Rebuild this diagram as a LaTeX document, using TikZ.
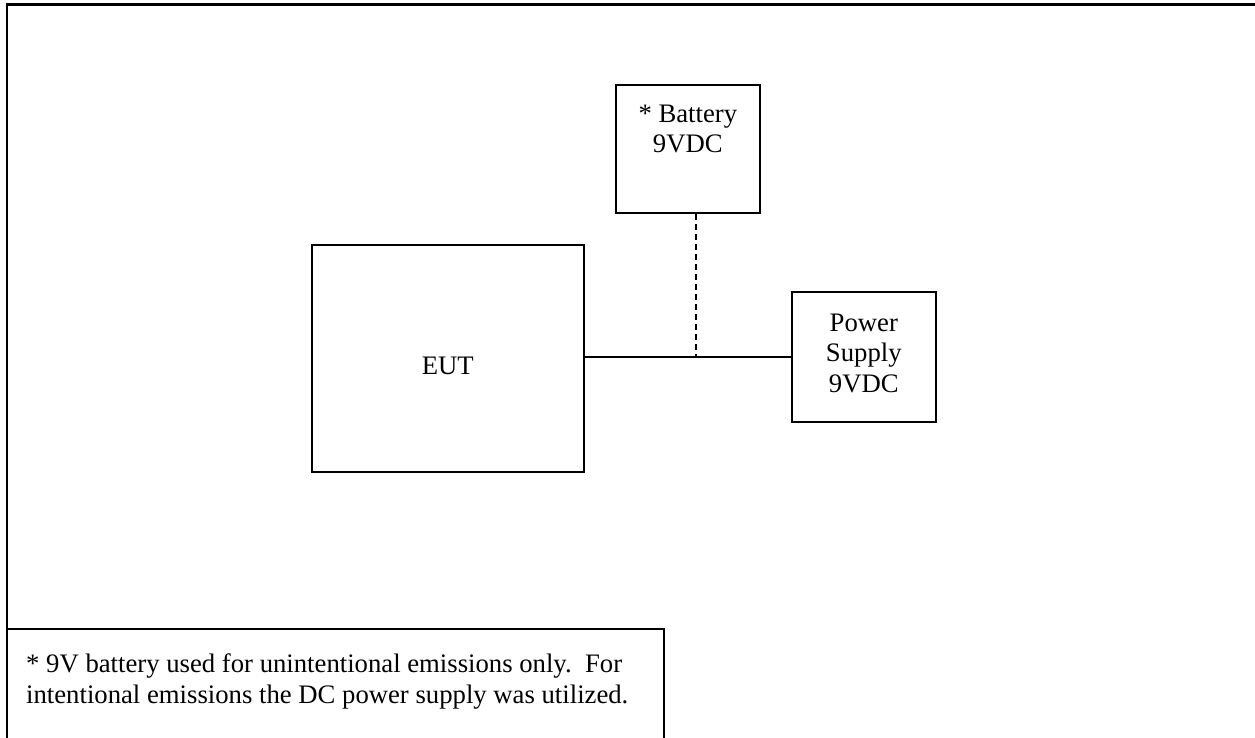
\documentclass[tikz,border=0pt]{standalone}
\usepackage{fontspec}
\setmainfont{Liberation Serif}
\begin{document}
\begin{tikzpicture}[x=1pt,y=-1pt,
  frame/.style={line width=2.4pt},
  box/.style={draw, line width=2pt, inner sep=0pt},
  wire/.style={line width=2pt},
  lbl/.style={font=\fontsize{26.7}{30.5}\selectfont, align=center, inner sep=0pt}]
\useasboundingbox (0,0) rectangle (1255,738);
% outer frame (top and left edges only visible)
\coordinate (ftl) at (7,4.5);
\coordinate (ftr) at (1256,4.5);
\coordinate (fbl) at (7,739);
\draw[frame] (ftr) -- (ftl) -- (fbl);
% boxes
\node[box, minimum width=272, minimum height=227] (eut) at (447.7,358.5) {};
\node[lbl, anchor=base] (euttxt) at (447.7,374) {EUT};
\node[box, minimum width=144.3, minimum height=128] (bat) at (687.8,149) {};
\node[lbl, anchor=base] (battxt) at (687.8,153) {* Battery\\9VDC};
\node[box, minimum width=144.3, minimum height=129.4] (ps) at (863.8,357) {};
\node[lbl, anchor=base] (pstxt) at (863.8,392) {Power\\Supply\\9VDC};
% connectors
\coordinate (bs) at ([xshift=8.2pt]bat.south);
\coordinate (jn) at (bs |- ps.west);
\draw[wire] (ps.west -| eut.east) -- (ps.west);
\draw[wire, dashed, dash pattern=on 6pt off 4pt] (bs) -- (jn);
% note box
\coordinate (ntl) at (7,628.5);
\coordinate (ntr) at (663.7,628.5);
\coordinate (nbr) at (663.7,739);
\draw[wire] (ntl) -- (ntr) -- (nbr);
\node[lbl, align=left, anchor=base west] (note) at (26,703) {* 9V battery used for unintentional emissions only.\ \ For\\intentional emissions the DC power supply was utilized.};
\end{tikzpicture}
\end{document}
